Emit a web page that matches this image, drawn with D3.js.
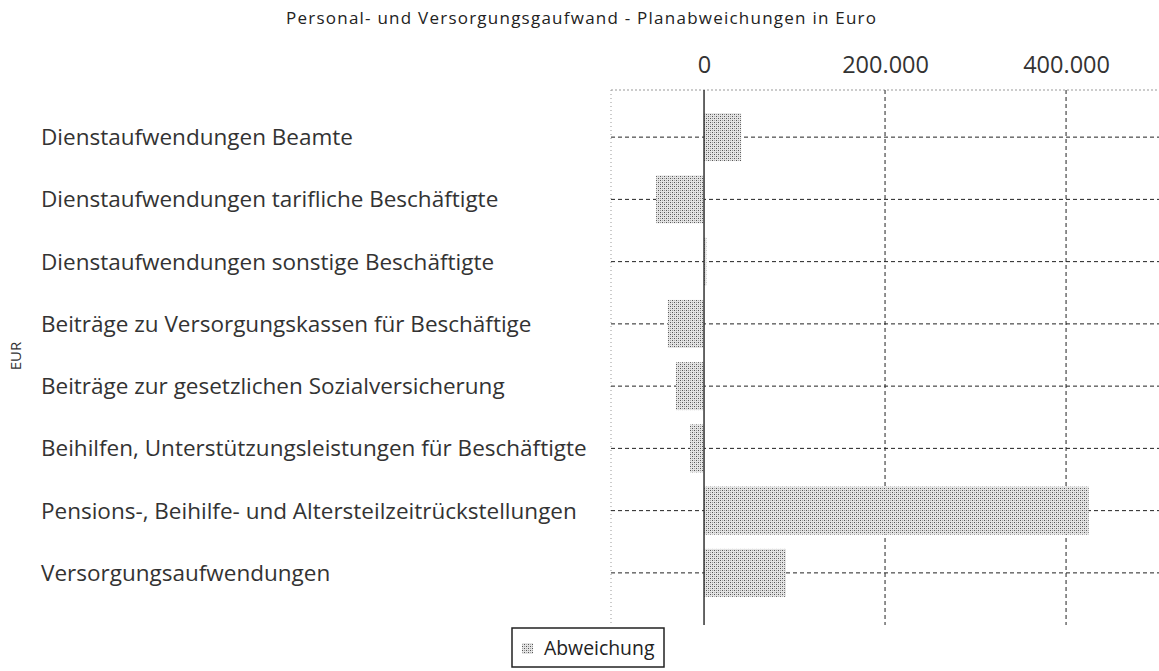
<!DOCTYPE html>
<meta charset="utf-8">
<style>
    body { margin: 0; background: #fff; }
    text { font-family: "Open Sans", sans-serif; }
</style>
<body>
<script src="https://cdn.jsdelivr.net/npm/d3@7"></script>
<script>

var categories = [
    'Dienstaufwendungen Beamte',
    'Dienstaufwendungen tarifliche Beschäftigte',
    'Dienstaufwendungen sonstige Beschäftigte',
    'Beiträge zu Versorgungskassen für Beschäftige',
    'Beiträge zur gesetzlichen Sozialversicherung',
    'Beihilfen, Unterstützungsleistungen für Beschäftigte',
    'Pensions-, Beihilfe- und Altersteilzeitrückstellungen',
    'Versorgungsaufwendungen'
];
var abweichung = [41000, -53000, 2500, -40000, -31000, -15500, 425000, 90500];
var xTicks = [0, 200000, 400000];

var width = 1159, height = 671;
var plot = {left: 611, right: 1159, top: 90, bottom: 625};

var svg = d3.select('body').append('svg')
    .attr('width', width)
    .attr('height', height);

// dithered grey fill like the scan
var defs = svg.append('defs');
var pat = defs.append('pattern')
    .attr('id', 'dots')
    .attr('width', 4)
    .attr('height', 4)
    .attr('patternUnits', 'userSpaceOnUse');
pat.append('rect').attr('width', 4).attr('height', 4).attr('fill', '#e4e4e4');
pat.append('rect').attr('x', 0).attr('y', 0).attr('width', 1).attr('height', 1).attr('fill', '#555');
pat.append('rect').attr('x', 2).attr('y', 2).attr('width', 1).attr('height', 1).attr('fill', '#555');
pat.append('rect').attr('x', 2).attr('y', 0).attr('width', 1).attr('height', 1).attr('fill', '#aaa');
pat.append('rect').attr('x', 0).attr('y', 2).attr('width', 1).attr('height', 1).attr('fill', '#999');

var x = d3.scaleLinear()
    .domain([-102800, 502700])
    .range([plot.left, plot.right]);

var y = d3.scaleBand()
    .domain(categories)
    .range([106, 604])
    .paddingInner(0.23)
    .paddingOuter(0.115);

// title
svg.append('text')
    .attr('x', 286)
    .attr('y', 24)
    .attr('textLength', 590)
    .attr('lengthAdjust', 'spacing')
    .style('font-size', '17px')
    .attr('fill', '#222')
    .text('Personal- und Versorgungsgaufwand - Planabweichungen in Euro');

// frame (dotted top & left)
svg.append('line')
    .attr('x1', plot.left).attr('x2', plot.right)
    .attr('y1', plot.top).attr('y2', plot.top)
    .attr('stroke', '#999').attr('stroke-width', 1)
    .attr('stroke-dasharray', '2,2');
svg.append('line')
    .attr('x1', plot.left).attr('x2', plot.left)
    .attr('y1', plot.top).attr('y2', plot.bottom)
    .attr('stroke', '#999').attr('stroke-width', 1)
    .attr('stroke-dasharray', '1,3');

// horizontal grid at category centres
svg.append('g')
    .selectAll('line')
    .data(categories)
    .enter()
    .append('line')
    .attr('x1', plot.left)
    .attr('x2', plot.right)
    .attr('y1', function(d) { return y(d) + y.bandwidth() / 2; })
    .attr('y2', function(d) { return y(d) + y.bandwidth() / 2; })
    .attr('stroke', '#222')
    .attr('stroke-width', 1)
    .attr('stroke-dasharray', '4,3');

// vertical grid
svg.append('g')
    .selectAll('line')
    .data(xTicks.filter(function(d) { return d != 0; }))
    .enter()
    .append('line')
    .attr('x1', function(d) { return x(d); })
    .attr('x2', function(d) { return x(d); })
    .attr('y1', plot.top)
    .attr('y2', plot.bottom)
    .attr('stroke', '#222')
    .attr('stroke-width', 1)
    .attr('stroke-dasharray', '4,3');

// bars
svg.append('g')
    .selectAll('rect')
    .data(abweichung)
    .enter()
    .append('rect')
    .attr('x', function(d) { return x(Math.min(0, d)); })
    .attr('y', function(d, i) { return y(categories[i]); })
    .attr('width', function(d) { return Math.abs(x(d) - x(0)); })
    .attr('height', y.bandwidth())
    .attr('fill', 'url(#dots)');

// zero line
svg.append('line')
    .attr('x1', x(0)).attr('x2', x(0))
    .attr('y1', plot.top).attr('y2', plot.bottom)
    .attr('stroke', '#333')
    .attr('stroke-width', 1.5);

// top axis labels
var axis = d3.axisTop(x)
    .tickValues(xTicks)
    .tickSize(0)
    .tickPadding(0)
    .tickFormat(function(d) { return d3.format(',')(d).replace(/,/g, '.'); });

var axisG = svg.append('g')
    .attr('transform', 'translate(0,73)')
    .call(axis);
axisG.select('.domain').remove();
axisG.selectAll('text')
    .style('font-family', '"Open Sans", sans-serif')
    .style('font-size', '23.5px')
    .attr('fill', '#333');

// category labels
svg.append('g')
    .selectAll('text')
    .data(categories)
    .enter()
    .append('text')
    .attr('x', 41)
    .attr('y', function(d) { return y(d) + y.bandwidth() / 2; })
    .attr('dy', '0.35em')
    .style('font-size', '22.5px')
    .attr('fill', '#333')
    .text(function(d) { return d; });

// axis title
svg.append('text')
    .attr('transform', 'translate(21,356) rotate(-90)')
    .attr('text-anchor', 'middle')
    .style('font-size', '15px')
    .attr('fill', '#333')
    .text('EUR');

// legend
var legend = svg.append('g').attr('transform', 'translate(512,628)');
legend.append('rect')
    .attr('width', 152).attr('height', 39)
    .attr('fill', '#fff')
    .attr('stroke', '#222')
    .attr('stroke-width', 1.5);
legend.append('rect')
    .attr('x', 10).attr('y', 15)
    .attr('width', 11).attr('height', 11)
    .attr('fill', 'url(#dots)');
legend.append('text')
    .attr('x', 32).attr('y', 20)
    .attr('dy', '0.35em')
    .style('font-size', '19.4px')
    .attr('fill', '#222')
    .text('Abweichung');

</script>
</body>
